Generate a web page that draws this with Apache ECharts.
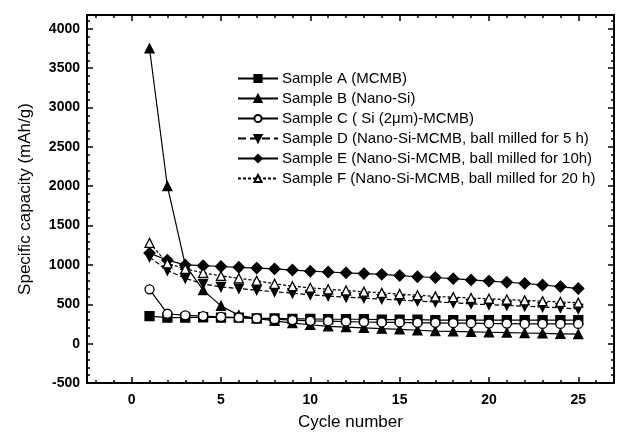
<!DOCTYPE html>
<html>
<head>
<meta charset="utf-8">
<script src="https://cdn.jsdelivr.net/npm/echarts@6/dist/echarts.min.js"></script>
<style>html,body{margin:0;padding:0;background:#fff;}#c{width:620px;height:436px;}</style>
</head>
<body>
<div id="c"></div>
<script>
const cycles = [1,2,3,4,5,6,7,8,9,10,11,12,13,14,15,16,17,18,19,20,21,22,23,24,25];
const sampleA = [350,330,330,335,330,330,320,320,315,315,310,310,310,305,305,305,300,300,300,300,300,300,300,300,300];
const sampleB = [3750,2000,1000,680,480,360,320,290,260,240,220,210,200,190,180,170,160,155,150,145,140,135,130,125,120];
const sampleC = [690,380,360,350,340,330,320,310,300,290,285,280,275,270,270,265,265,260,260,255,255,250,250,250,250];
const sampleD = [1100,930,830,760,720,700,680,660,640,620,605,590,580,565,555,540,530,520,505,495,485,475,465,455,440];
const sampleE = [1150,1060,1000,990,980,970,960,950,935,920,910,900,890,880,865,850,840,825,810,795,780,765,745,725,700];
const sampleF = [1280,1020,950,900,860,830,800,760,730,710,690,675,660,645,630,615,600,590,580,570,560,550,540,530,520];
const names = ['Sample A (MCMB)','Sample B (Nano-Si)','Sample C ( Si (2\u03bcm)-MCMB)','Sample D (Nano-Si-MCMB, ball milled for 5 h)','Sample E (Nano-Si-MCMB, ball milled for 10h)','Sample F (Nano-Si-MCMB, ball milled for 20 h)'];
const xMajorTicks = [0,5,10,15,20,25];
const xMinorTicks = [-2,-1,0,1,2,3,4,5,6,7,8,9,10,11,12,13,14,15,16,17,18,19,20,21,22,23,24,25,26,27];
const yMajorTicks = [-500,0,500,1000,1500,2000,2500,3000,3500,4000];
const yMinorTicks = [];
for (let v = -500; v <= 4100; v += 100) yMinorTicks.push(v);

const XMIN = -2.5, XMAX = 27, YMIN = -500, YMAX = 4175;
const font = 'Liberation Sans, Arial, sans-serif';
const black = '#000';

function pairs(vals){ return cycles.map((c,i)=>[c, vals[i]]); }

function xAx(pos, ticks, len, showLine, showLabel){
  return {
    type:'value', position:pos, min:XMIN, max:XMAX,
    axisLine:{show:showLine, onZero:false, lineStyle:{color:black,width:2}},
    axisTick:{show:true, inside:true, length:len, customValues:ticks, lineStyle:{color:black,width:1.5}},
    axisLabel:{show:showLabel, customValues:xMajorTicks, color:black, fontSize:14, fontWeight:'bold', fontFamily:font, margin:10, formatter:(v)=>String(v)},
    splitLine:{show:false}
  };
}
function yAx(pos, ticks, len, showLine, showLabel){
  return {
    type:'value', position:pos, min:YMIN, max:YMAX,
    axisLine:{show:showLine, onZero:false, lineStyle:{color:black,width:2}},
    axisTick:{show:true, inside:true, length:len, customValues:ticks, lineStyle:{color:black,width:1.5}},
    axisLabel:{show:showLabel, customValues:yMajorTicks, color:black, fontSize:14, fontWeight:'bold', fontFamily:font, margin:7, formatter:(v)=>String(v)},
    splitLine:{show:false}
  };
}

const xAxes = [
  Object.assign(xAx('bottom', xMajorTicks, 6, true, true), {name:'Cycle number', nameLocation:'middle', nameGap:31, nameTextStyle:{color:black, fontSize:17, fontFamily:font}}),
  xAx('bottom', xMinorTicks, 3, false, false),
  xAx('top', xMajorTicks, 6, true, false),
  xAx('top', xMinorTicks, 3, false, false)
];
const yAxes = [
  Object.assign(yAx('left', yMajorTicks, 6, true, true), {name:'Specific capacity (mAh/g)', nameLocation:'middle', nameGap:53, nameTextStyle:{color:black, fontSize:17, fontFamily:font}}),
  yAx('left', yMinorTicks, 3, false, false),
  yAx('right', yMajorTicks, 6, true, false),
  yAx('right', yMinorTicks, 3, false, false)
];

function ser(name, vals, symbol, filled, lineType){
  return {
    name, type:'line', data:pairs(vals), xAxisIndex:0, yAxisIndex:0,
    symbol, symbolSize: symbol==='diamond'?11:9, showSymbol:true,
    lineStyle:{color:black, width:1.2, type:lineType},
    itemStyle:{color: filled?black:'#fff', borderColor:black, borderWidth:1.3},
    emphasis:{disabled:true}, animation:false
  };
}

const chart = echarts.init(document.getElementById('c'), null, {renderer:'canvas'});
chart.setOption({
  backgroundColor:'#fff',
  animation:false,
  grid:{left:87, right:6, top:15, bottom:48, containLabel:false},
  xAxis:xAxes,
  yAxis:yAxes,
  legend:{
    orient:'vertical', left:232, top:66, itemWidth:40, itemHeight:9, itemGap:5,
    textStyle:{color:black, fontSize:15, fontFamily:font, padding:[0,0,0,-1]},
    data:names
  },
  series:[
    ser(names[0], sampleA, 'rect', true, 'solid'),
    ser(names[1], sampleB, 'triangle', true, 'solid'),
    ser(names[2], sampleC, 'circle', false, 'solid'),
    ser(names[3], sampleD, 'path://M0,0 L10,0 L5,9 Z', true, 'dashed'),
    ser(names[4], sampleE, 'diamond', true, 'solid'),
    ser(names[5], sampleF, 'triangle', false, [3,2])
  ]
});
</script>
</body>
</html>
